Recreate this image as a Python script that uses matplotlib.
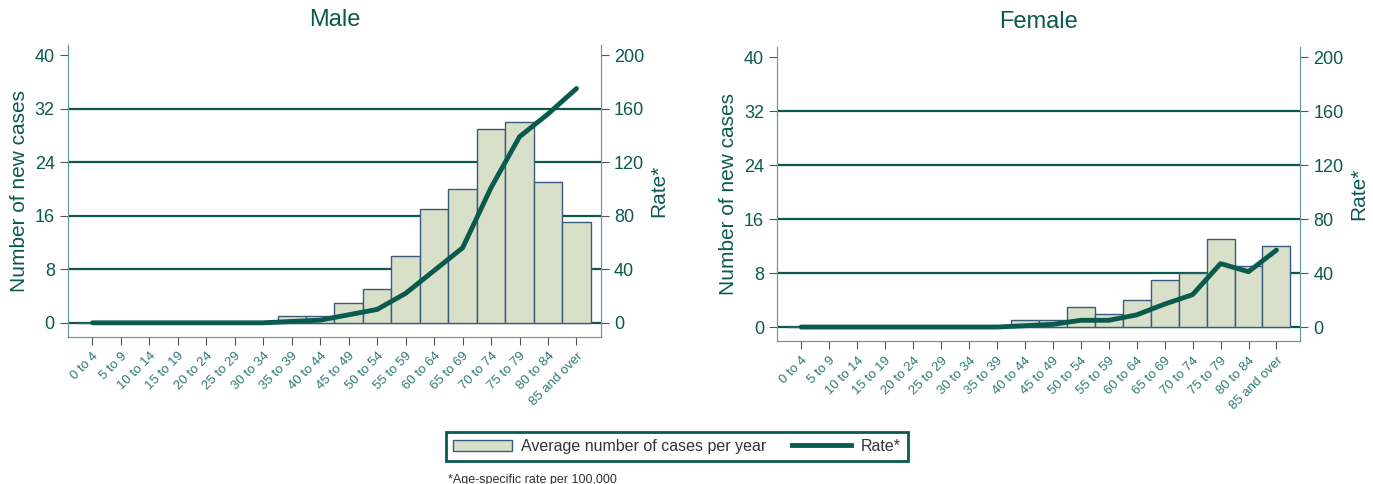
import matplotlib.pyplot as plt
import numpy as np
from matplotlib.patches import Patch
from matplotlib.lines import Line2D

plt.rcParams['font.family'] = ['Liberation Sans', 'DejaVu Sans']

# age groups
ages = ['0 to 4', '5 to 9', '10 to 14', '15 to 19', '20 to 24', '25 to 29', '30 to 34',
        '35 to 39', '40 to 44', '45 to 49', '50 to 54', '55 to 59', '60 to 64',
        '65 to 69', '70 to 74', '75 to 79', '80 to 84', '85 and over']

# average number of cases per year
male_cases = [0, 0, 0, 0, 0, 0, 0, 1, 1, 3, 5, 10, 17, 20, 29, 30, 21, 15]
female_cases = [0, 0, 0, 0, 0, 0, 0, 0, 1, 1, 3, 2, 4, 7, 8, 13, 9, 12]

# age-specific rate per 100,000
male_rate = [0, 0, 0, 0, 0, 0, 0, 1, 2, 6, 10, 22, 39, 56, 101, 139, 156, 175]
female_rate = [0, 0, 0, 0, 0, 0, 0, 0, 1, 2, 5, 5, 9, 17, 24, 47, 41, 57]

teal = '#0b5a4e'
light = '#2e7a72'
bar_fill = '#d9e0c9'
bar_edge = '#3b5a80'
spine_col = '#5f9e98'

fig = plt.figure(figsize=(13.73, 4.84), dpi=100)

def panel(rect, title, cases, rate):
    ax = fig.add_axes(rect)
    x = np.arange(len(ages))
    ax.bar(x, cases, width=1.0, color=bar_fill, edgecolor=bar_edge, linewidth=1.0, zorder=3)
    ax.set_xlim(-0.86, len(ages) - 0.15)
    ax.set_ylim(-2.1, 41.5)
    ax.set_yticks([0, 8, 16, 24, 32, 40])
    for v in [0, 8, 16, 24, 32]:
        ax.axhline(v, color=teal, lw=1.6, zorder=2)
    ax.set_xticks(x)
    ax.set_xticklabels(ages, rotation=45, ha='right', rotation_mode='anchor', fontsize=9.5)
    ax.tick_params(axis='y', labelsize=13, colors='#555555', labelcolor=teal, length=6)
    ax.tick_params(axis='x', colors='#555555', labelcolor=light, length=6)
    ax.set_ylabel('Number of new cases', fontsize=15, color=teal)
    ax.set_title(title, fontsize=17, color=teal, pad=14)
    for s in ['left', 'right', 'bottom']:
        ax.spines[s].set_color(spine_col)
    ax.spines['top'].set_visible(False)

    ax2 = ax.twinx()
    ax2.plot(x, rate, color=teal, lw=3.5, zorder=4, solid_capstyle='round')
    ax2.set_ylim(-10.5, 207.5)
    ax2.set_yticks([0, 40, 80, 120, 160, 200])
    ax2.tick_params(axis='y', labelsize=13, colors='#555555', labelcolor=teal, length=6)
    ax2.set_ylabel('Rate*', fontsize=15, color=teal)
    for s in ['left', 'right', 'bottom']:
        ax2.spines[s].set_color(spine_col)
    ax2.spines['top'].set_visible(False)
    return ax

panel([0.0495, 0.304, 0.388, 0.603], 'Male', male_cases, male_rate)
panel([0.566, 0.295, 0.381, 0.608], 'Female', female_cases, female_rate)

handles = [Patch(facecolor=bar_fill, edgecolor=bar_edge, lw=1.0),
           Line2D([0], [0], color=teal, lw=3.5)]
leg = fig.legend(handles, ['Average number of cases per year', 'Rate*'],
                 loc='center', bbox_to_anchor=(0.493, 0.078), ncol=2, fontsize=11.5,
                 frameon=True, fancybox=False, framealpha=1, handlelength=3.7,
                 handletextpad=0.6, columnspacing=1.6, borderpad=0.45)
leg.get_frame().set_edgecolor(teal)
leg.get_frame().set_linewidth(2)
for t in leg.get_texts():
    t.set_color('#333333')

fig.text(0.326, 0.003, '*Age-specific rate per 100,000', fontsize=9, color='#333333')

fig.savefig('out.png', dpi=100)
